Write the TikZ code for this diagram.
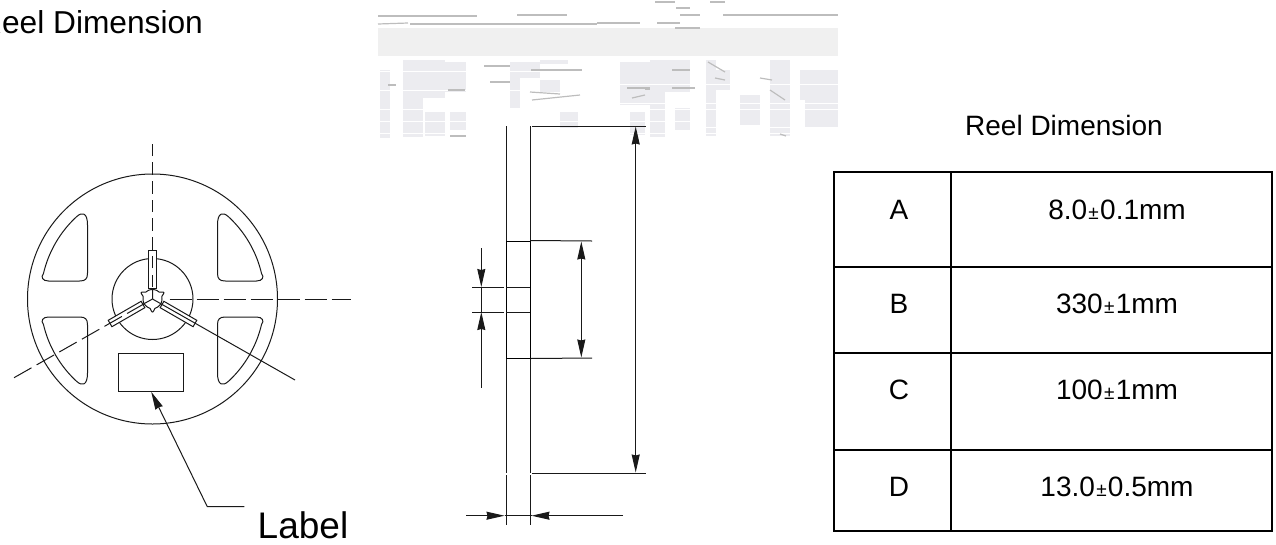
\documentclass[tikz,border=0pt]{standalone}
\usepackage{fontspec}
\setmainfont{Liberation Sans}
\usetikzlibrary{arrows.meta}
\definecolor{band}{HTML}{F0F0F0}
\definecolor{pale}{HTML}{ECECF0}
\definecolor{streak}{HTML}{BDBDBD}
\tikzset{
  x=1pt,y=1pt,
  thin line/.style={line width=1pt,black!90},
  dash line/.style={line width=1pt,black!90},
  head/.style={-{Stealth[length=18pt,width=8pt,inset=1pt]}},
  heads/.style={{Stealth[length=18pt,width=8pt,inset=1pt]}-{Stealth[length=18pt,width=8pt,inset=1pt]}},
  tbl/.style={line width=1.6pt,black},
  txt/.style={font=\fontsize{28}{28}\selectfont,inner sep=0pt,anchor=base,black},
}
\newcommand{\pmm}{\kern1.3pt{\fontsize{19}{19}\selectfont ±}\kern1.3pt}
\begin{document}
\begin{tikzpicture}
\useasboundingbox (0,0) rectangle (1276,-544);
% degraded image patch
\fill[band] (378,-28) rectangle (838,-56);
\foreach \a/\b/\c/\d in {403/60/423/137,423/60/445/98,445/62/466/92,380/70/390/138,425/112/445/136,450/112/466/130,
  510/62/540/78,510/78/520/108,540/60/568/64,540/80/560/92,
  620/62/650/105,650/60/665/137,665/60/690/92,675/108/690/130,
  706/60/716/136,716/70/730/90,740/95/760/125,770/60/790/136,800/70/838/100,805/100/838/128,
  560/112/578/128,630/112/645/135}
  {\fill[pale] (\a,-\b) rectangle (\c,-\d);}
\foreach \y/\u/\v in {71/378/600,84/600/838,90/378/520,103/620/838,109/378/838,121/378/700,127/700/838,133/378/838}
  {\draw[white,line width=1pt] (\u,-\y) -- (\v,-\y);}
\foreach \a/\b/\c/\d in {378/16/477/16,378/24/408/23,410/24/597/24,517/15/567/15,723/15/838/15,597/23/640/23,
  657/23/680/23,676/8/690/8,655/2/675/2,710/2/725/2,680/15/700/15,675/28/700/28,
  531/70/582/70,540/70/552/70,484/66/510/66,490/82/510/82,388/85/396/85,448/90/465/90,
  530/92/560/94,532/100/580/95,645/89/650/89,627/88/650/88,632/98/645/95,672/88/695/88,672/70/690/70,
  708/62/725/72,715/78/725/80,760/78/772/80,770/90/785/100,450/136/466/136,780/134/786/136}
  {\draw[streak,line width=1.2pt] (\a,-\b) -- (\c,-\d);}
% reel
\begin{scope}[shift={(152.5,-299)}]
  \node[circle,draw,thin line,minimum size=250pt,inner sep=0pt] (reel) at (0,0) {};
  \node[circle,draw,thin line,minimum size=81pt,inner sep=0pt] (hubc) at (0,0) {};
  \foreach \sx/\sy in {1/1,-1/1,1/-1,-1/-1}{
    \begin{scope}[xscale=\sx,yscale=\sy]
    \draw[thin line] (65,26) .. controls (65,20) and (67,18) .. (73,18) -- (104,18)
      .. controls (110,18) and (112,22) .. (109.1,25.2)
      arc[start angle=13,end angle=47,radius=112]
      .. controls (70,88) and (65,86) .. (65,74) -- cycle;
    \end{scope}
  }
  \foreach \r in {0,120,240}{
    \begin{scope}[rotate=\r]
      \draw[thin line,fill=white] (-3.7,11) rectangle (3.7,49);
    \end{scope}
  }
  \draw[thin line,fill=white,smooth,samples=121,domain=0:360]
     plot ({(9.5+3.5*(max(0,cos(3*(\x-30))))^8)*cos(\x)},{(9.5+3.5*(max(0,cos(3*(\x-30))))^8)*sin(\x)}) -- cycle;
  \coordinate (c) at (0,0);
  \coordinate (e1) at (0,161);
  \coordinate (e2) at (-142.5,-81);
  \coordinate (e3) at (198.5,0);
  \coordinate (s1) at (142.5,-81);
  \draw[dash line,dash pattern=on 12.5pt off 6.2pt] (0,12) -- (e1);
  \draw[dash line,dash pattern=on 20pt off 6pt] (-8,-4.6) -- (e2);
  \draw[dash line,dash pattern=on 22pt off 5pt] (17,0) -- (e3);
  \draw[thin line] (c) -- (s1);
  \draw[thin line] (c) -- (0,10) (c) -- (-9,-5);
\end{scope}
% label
\node[draw,thin line,minimum width=65pt,minimum height=37.6pt,inner sep=0pt] (lab) at (151.2,-372.5) {};
\coordinate (lk) at (207.3,-506.7);
\coordinate (le) at (244.3,-506.7);
\draw[thin line,head] (le) -- (lk) -- (lab.south);
\node[txt,font=\fontsize{37}{37}\selectfont] (labt) at (303,-538) {Label};
\node[txt,anchor=base west,font=\fontsize{31.7}{32}\selectfont] (t1) at (-21,-33) {Reel Dimension};
% middle view
\coordinate (a1) at (506,-126); \coordinate (a2) at (506,-473); \coordinate (a3) at (506,-475); \coordinate (a4) at (506,-525);
\coordinate (b1) at (530,-126); \coordinate (b2) at (530,-473); \coordinate (b3) at (530,-475); \coordinate (b4) at (530,-525);
\draw[thin line] (a1)--(a2) (a3)--(a4) (b1)--(b2) (b3)--(b4);
\coordinate (h1) at (532,-126); \coordinate (h2) at (646,-126);
\coordinate (h3) at (532,-473); \coordinate (h4) at (646,-473);
\draw[thin line] (h1)--(h2) (h3)--(h4);
\coordinate (d1) at (635.7,-126.5); \coordinate (d2) at (635.7,-472.5);
\draw[thin line,heads] (d1)--(d2);
\node[draw,line width=1pt,black,minimum width=24pt,minimum height=117pt,inner sep=0pt] (hub) at (518,-299.5) {};
\coordinate (r1) at (592,-241); \coordinate (r2) at (592,-358);
\draw[thin line] (hub.north east)--(r1) (hub.south east)--(r2);
\coordinate (e1) at (581.3,-241.5); \coordinate (e2) at (581.3,-357.5);
\draw[thin line,heads] (e1)--(e2);
\coordinate (m1) at (472,-287); \coordinate (m2) at (504,-287);
\coordinate (m3) at (472,-312); \coordinate (m4) at (504,-312);
\coordinate (m5) at (530,-287); \coordinate (m6) at (530,-312);
\coordinate (m7) at (506,-287); \coordinate (m8) at (506,-312);
\draw[thin line] (m1)--(m2) (m3)--(m4) (m7)--(m5) (m8)--(m6);
\coordinate (n1) at (481.3,-248); \coordinate (n2) at (481.3,-287);
\coordinate (n3) at (481.3,-387.5); \coordinate (n4) at (481.3,-312);
\draw[thin line,head] (n1)--(n2);
\draw[thin line,head] (n3)--(n4);
\draw[thin line] (n2)--(n4);
\coordinate (w1) at (466,-515.7); \coordinate (w2) at (504.5,-515.7);
\coordinate (w3) at (623,-515.7); \coordinate (w4) at (531.5,-515.7);
\draw[thin line,head] (w1)--(w2);
\draw[thin line,head] (w3)--(w4);
\draw[thin line] (w2)--(w4);
% table
\node[txt] (title) at (1064,-135) {Reel Dimension};
\coordinate (tl) at (834,-172); \coordinate (br) at (1272,-531);
\draw[tbl] (tl) rectangle (br);
\coordinate (v1) at (951,-172); \coordinate (v2) at (951,-531);
\draw[tbl] (v1)--(v2);
\foreach \y in {267,353,450}{
  \coordinate (l\y) at (834,-\y); \coordinate (r\y) at (1272,-\y);
  \draw[tbl] (l\y)--(r\y);
}
\node[txt] (ka) at (899,-219) {A};
\node[txt] (kb) at (899,-313) {B};
\node[txt] (kc) at (899,-399) {C};
\node[txt] (kd) at (899,-496) {D};
\node[txt] (va) at (1117,-219.5) {8.0\pmm0.1mm};
\node[txt] (vb) at (1117,-313.5) {330\pmm1mm};
\node[txt] (vc) at (1117,-399.5) {100\pmm1mm};
\node[txt] (vd) at (1117,-496) {13.0\pmm0.5mm};
\end{tikzpicture}
\end{document}
